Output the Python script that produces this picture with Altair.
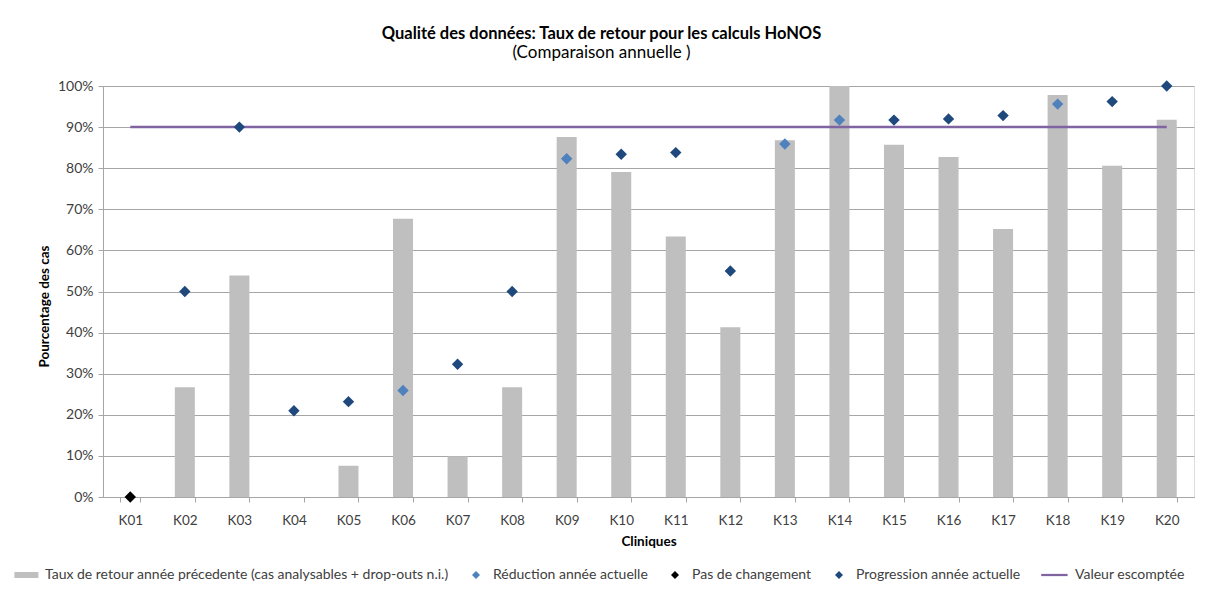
import altair as alt
import pandas as pd

# ---- data ----
cliniques = ["K01", "K02", "K03", "K04", "K05", "K06", "K07", "K08", "K09", "K10",
             "K11", "K12", "K13", "K14", "K15", "K16", "K17", "K18", "K19", "K20"]
taux_annee_precedente = [0.0, 26.7, 53.9, 0.0, 7.6, 67.7, 9.9, 26.7, 87.6, 79.1,
                         63.4, 41.3, 86.8, 100.0, 85.7, 82.7, 65.2, 97.8, 80.6, 91.8]
taux_annee_actuelle = [0.0, 50.0, 90.0, 21.0, 23.2, 25.9, 32.3, 50.0, 82.3, 83.4,
                       83.8, 55.0, 85.9, 91.7, 91.7, 92.0, 92.8, 95.6, 96.2, 100.0]
statut = ["Pas de changement", "Progression année actuelle", "Progression année actuelle",
          "Progression année actuelle", "Progression année actuelle", "Réduction année actuelle",
          "Progression année actuelle", "Progression année actuelle", "Réduction année actuelle",
          "Progression année actuelle", "Progression année actuelle", "Progression année actuelle",
          "Réduction année actuelle", "Réduction année actuelle", "Progression année actuelle",
          "Progression année actuelle", "Progression année actuelle", "Réduction année actuelle",
          "Progression année actuelle", "Progression année actuelle"]
valeur_escomptee_cliniques = ["K01", "K20"]
valeur_escomptee = [90.0, 90.0]

series = ["Taux de retour année précedente (cas analysables + drop-outs n.i.)",
          "Réduction année actuelle", "Pas de changement",
          "Progression année actuelle", "Valeur escomptée"]
series_colors = ["#bfbfbf", "#4f81bd", "#000000", "#1f497d", "#8064a2"]

FONT = "Lato"
DIAMOND = "M0,-1L1,0L0,1L-1,0Z"
BAR_SYM = "M-3.4,-0.75L2.6,-0.75L2.6,0.75L-3.4,0.75Z"
LINE_SYM = "M-4.2,-0.28L2.4,-0.28L2.4,0.28L-4.2,0.28Z"
series_shapes = [BAR_SYM, DIAMOND, DIAMOND, DIAMOND, LINE_SYM]

df_bar = pd.DataFrame({"clinique": cliniques,
                       "taux": [v / 100 for v in taux_annee_precedente]})
df_pts = pd.DataFrame({"clinique": cliniques,
                       "taux": [v / 100 for v in taux_annee_actuelle],
                       "serie": statut})
df_line = pd.DataFrame({"clinique": valeur_escomptee_cliniques,
                        "taux": [v / 100 for v in valeur_escomptee]})

x_scale = alt.Scale(domain=cliniques, paddingInner=0.633, paddingOuter=0.3165)
y_scale = alt.Scale(domain=[0, 1], nice=False)

x_axis = alt.Axis(title="Cliniques", labelAngle=0, tickBand="extent", tickSize=5,
                  tickColor="#a6a6a6", domainColor="#a6a6a6", grid=False,
                  labelFont=FONT, labelFontSize=13.5, labelColor="#404040", labelPadding=11,
                  titleFont=FONT, titleFontSize=13.5, titleFontWeight="bold",
                  titleColor="#000000", titlePadding=8)
y_axis = alt.Axis(title="Pourcentage des cas", format=".0%",
                  values=[i / 10 for i in range(11)], tickSize=5,
                  tickColor="#a6a6a6", domainColor="#a6a6a6", gridColor="#a6a6a6",
                  labelFont=FONT, labelFontSize=14, labelColor="#404040", labelPadding=5,
                  titleFont=FONT, titleFontSize=13.5, titleFontWeight="bold",
                  titleColor="#000000", titlePadding=6, titleY=220)

bars = alt.Chart(df_bar).mark_bar(color="#bfbfbf").encode(
    x=alt.X("clinique:N", scale=x_scale, axis=x_axis, sort=cliniques),
    y=alt.Y("taux:Q", scale=y_scale, axis=y_axis),
)

line = alt.Chart(df_line).mark_line(color="#8064a2", strokeWidth=2.5).encode(
    x=alt.X("clinique:N", scale=x_scale, sort=cliniques),
    y=alt.Y("taux:Q", scale=y_scale),
)

legend = alt.Legend(title=None, orient="none", legendX=-82, legendY=482,
                    direction="horizontal", columns=5, columnPadding=20,
                    symbolSize=64, symbolStrokeWidth=0, labelOffset=10,
                    labelFont=FONT, labelFontSize=14, labelColor="#404040",
                    labelLimit=0)

points = alt.Chart(df_pts).mark_point(filled=True, size=130, opacity=1).encode(
    x=alt.X("clinique:N", scale=x_scale, sort=cliniques),
    y=alt.Y("taux:Q", scale=y_scale),
    color=alt.Color("serie:N", scale=alt.Scale(domain=series, range=series_colors),
                    legend=legend),
    shape=alt.Shape("serie:N", scale=alt.Scale(domain=series, range=series_shapes),
                    legend=legend),
)

chart = alt.layer(bars, line, points).properties(
    width=1091, height=411,
    autosize=alt.AutoSizeParams(type="none"),
    padding={"left": 95, "top": 78, "right": 4, "bottom": 96},
    title=alt.TitleParams(text="Qualité des données: Taux de retour pour les calculs HoNOS",
                          subtitle="(Comparaison annuelle )",
                          anchor="middle", dx=-47, offset=18,
                          font=FONT, fontSize=16.5, fontWeight="bold", color="#000000",
                          subtitleFont=FONT, subtitleFontSize=17, subtitleColor="#000000",
                          subtitlePadding=3),
).configure_view(stroke=None).configure(background="#ffffff")

chart.save("out.html", embed_options={"renderer": "svg", "actions": False})
